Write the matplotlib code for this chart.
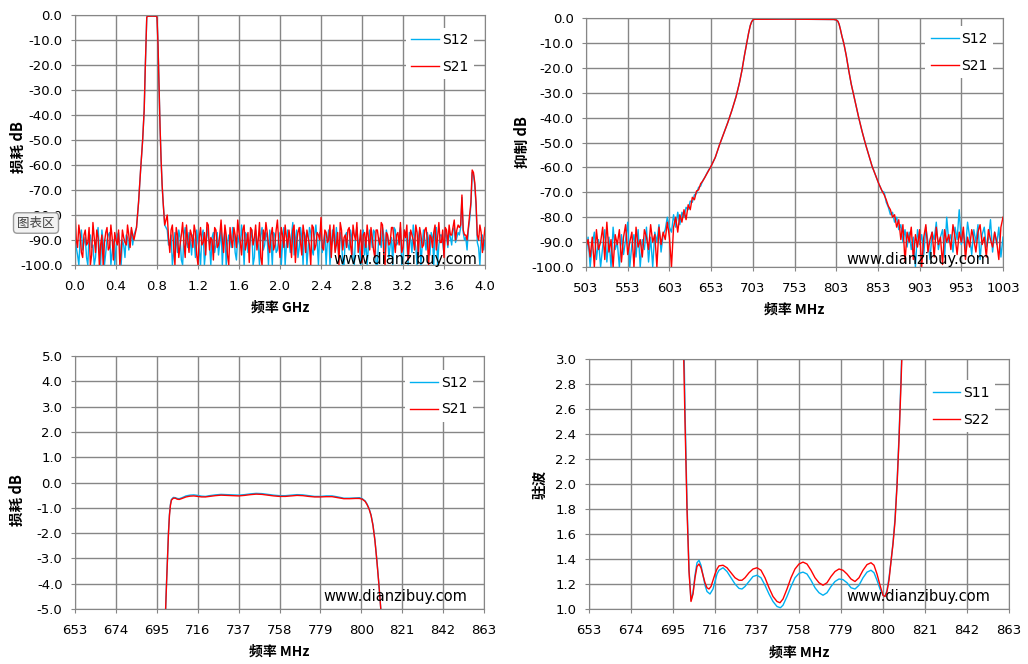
import numpy as np
import matplotlib
matplotlib.use("Agg")
import matplotlib.pyplot as plt

plt.rcParams['font.family'] = ['DejaVu Sans', 'Noto Sans CJK SC']
CJK = ['Noto Sans CJK SC', 'DejaVu Sans']

BLUE = '#00b0f0'
RED = '#ff0000'
GRID = '#868686'
WATERMARK = 'www.dianzibuy.com'

# ---------- chart 1: wide sweep, GHz ----------
# noise floor below the passband, read at 0.025 GHz steps plus the half steps between
wide_left_f = np.round(np.arange(24) * 0.025, 4)
wide_left_s21 = [78, 93, 88, 97, 86, 91, 100, 83, 95, 89, 92, 100, 87, 94, 84, 98, 90, 86, 95, 89, 92, 88, 85, 90]
wide_left_s12 = [87, 96, 90, 94, 89, 100, 88, 92, 97, 85, 100, 91, 95, 88, 100, 90, 93, 87, 100, 92, 88, 94, 86, 88]
wide_left_mid_f = np.round(0.0125 + np.arange(23) * 0.025, 4)
wide_left_mid_s21 = [90, 84, 95, 88, 92, 85, 96, 89, 86, 100, 88, 91, 85, 93, 89, 87, 92, 100, 86, 91, 84, 93, 88]
wide_left_mid_s12 = [93, 100, 86, 91, 97, 88, 93, 100, 89, 94, 86, 100, 90, 87, 95, 100, 88, 92, 90, 97, 89, 91, 92]

wide_edge_f = [0.6, 0.62, 0.64, 0.66, 0.675, 0.685, 0.695, 0.70, 0.705, 0.75, 0.795, 0.80,
               0.81, 0.82, 0.83, 0.84, 0.85, 0.86, 0.875]
wide_edge_db = [-85, -75, -62, -50, -38, -22, -8, -1, -0.5, -0.45, -0.5, -1,
                -12, -28, -45, -58, -68, -75, -84]

wide_floor_f = np.round(0.9 + np.arange(125) * 0.025, 4)
wide_floor_s21 = [80, 95, 84, 100, 88, 92, 83, 97, 90, 86,
                  93, 87, 100, 85, 91, 96, 84, 89, 98, 86,
                  92, 82, 95, 88, 100, 90, 85, 93, 87, 96,
                  84, 91, 99, 86, 89, 94, 83, 100, 90, 87,
                  95, 85, 92, 82, 97, 88, 84, 93, 90, 86,
                  99, 87, 91, 84, 95, 89, 100, 85, 92, 88,
                  81, 94, 87, 90, 97, 84, 92, 100, 86, 89,
                  93, 85, 96, 88, 83, 91, 99, 87, 84, 94,
                  89, 97, 86, 92, 84, 100, 88, 91, 85, 95,
                  87, 83, 93, 89, 98, 86, 90, 84, 96, 88,
                  92, 85, 100, 89, 87, 94, 83, 91, 97, 86,
                  84, 88, 82, 86, 85, 72, 88, 90, 80, 62,
                  67, 88, 84, 95, 85]
wide_floor_s12 = [86, 92, 100, 87, 95, 89, 100, 85, 93, 90,
                  88, 97, 91, 100, 86, 94, 89, 100, 87, 92,
                  96, 85, 90, 100, 88, 93, 86, 98, 91, 84,
                  100, 88, 93, 86, 97, 90, 100, 85, 92, 89,
                  86, 100, 88, 94, 87, 91, 100, 86, 95, 83,
                  90, 97, 85, 100, 89, 93, 87, 96, 84, 100,
                  88, 91, 100, 86, 93, 89, 85, 97, 90, 100,
                  87, 94, 89, 100, 85, 92, 88, 96, 100, 86,
                  93, 87, 100, 90, 85, 96, 89, 92, 100, 86,
                  91, 85, 97, 88, 100, 90, 84, 93, 89, 100,
                  86, 94, 90, 87, 100, 85, 92, 88, 96, 89,
                  87, 92, 85, 89, 88, 73, 90, 94, 82, 63,
                  68, 91, 100, 88, 90]
wide_floor_mid_f = np.round(0.9125 + np.arange(124) * 0.025, 4)
wide_floor_mid_s21 = [89, 86, 93, 85, 97, 88, 91, 84, 95, 88,
                      84, 96, 89, 92, 87, 83, 94, 90, 85, 93,
                      88, 90, 84, 96, 85, 93, 88, 82, 91, 86,
                      94, 87, 85, 92, 84, 90, 97, 86, 83, 92,
                      88, 94, 86, 91, 85, 93, 89, 86, 97, 84,
                      91, 85, 96, 88, 86, 92, 84, 94, 87, 90,
                      93, 86, 91, 84, 89, 95, 87, 83, 94, 88,
                      86, 92, 84, 90, 95, 86, 88, 93, 89, 85,
                      94, 86, 90, 83, 96, 87, 92, 85, 90, 88,
                      92, 95, 86, 84, 91, 88, 94, 87, 85, 93,
                      86, 90, 88, 93, 84, 89, 91, 86, 85, 92,
                      88, 85, 90, 84, 84, 86, 88, 85, 75, 63,
                      75, 90, 87, 90]
wide_floor_mid_s12 = [92, 88, 95, 90, 86, 98, 88, 91, 87, 96,
                      90, 86, 94, 88, 100, 85, 92, 89, 95, 87,
                      91, 100, 86, 92, 89, 85, 95, 88, 93, 90,
                      87, 95, 89, 100, 86, 92, 88, 94, 87, 100,
                      91, 87, 95, 89, 100, 85, 92, 90, 88, 96,
                      86, 93, 89, 87, 100, 85, 94, 88, 91, 87,
                      95, 87, 90, 100, 86, 94, 91, 87, 100, 88,
                      92, 86, 97, 88, 91, 100, 86, 90, 93, 88,
                      86, 100, 89, 93, 88, 86, 97, 89, 85, 92,
                      88, 100, 86, 91, 87, 95, 89, 100, 86, 92,
                      90, 87, 96, 89, 85, 100, 88, 91, 86, 93,
                      89, 86, 91, 87, 85, 87, 89, 86, 76, 64,
                      76, 93, 89, 94]

# ---------- chart 2: rejection, MHz ----------
rej_left_f = 503 + 2.5 * np.arange(41)
rej_left_s21 = [92, 89, 96, 88, 100, 85, 93, 90, 84, 97,
                82, 94, 89, 100, 87, 91, 85, 98, 88, 83,
                95, 90, 86, 100, 84, 92, 89, 96, 85, 88,
                93, 83, 90, 87, 100, 84, 91, 86, 89, 82, 88]
rej_left_s12 = [95, 88, 100, 91, 86, 97, 89, 100, 92, 85,
                98, 88, 100, 84, 93, 90, 100, 87, 95, 89,
                82, 100, 91, 87, 96, 85, 100, 89, 93, 84,
                98, 88, 100, 86, 90, 83, 94, 87, 85, 80, 84]

rej_rise_f = 605.5 + 2.5 * np.arange(20)
rej_rise_s21 = [-100, -84, -80, -86, -79, -82, -77, -81, -75, -77,
                -72, -73, -69.5, -69, -66.5, -65.5, -64, -62.5, -61, -59.5]
rej_rise_s12 = [-86, -79, -84, -78, -83, -78, -80, -76, -77, -73.5,
                -74, -71, -70.5, -68, -67.5, -65.3, -64, -62.3, -60.8, -59.5]

rej_mid_f = [658, 663, 668, 673, 678, 683, 687, 690, 693, 696, 698, 700, 701.5, 703, 705,
             720, 740, 760, 780, 800, 803, 805, 806.5, 808, 810, 812, 815, 818, 821, 824,
             827, 830, 834, 838, 842, 846, 850, 854, 858]
rej_mid_db = [-56, -51, -46.5, -42, -37, -31.5, -26, -21, -15, -9.5, -6, -3, -1.6, -0.8, -0.5,
              -0.5, -0.45, -0.5, -0.55, -0.6, -0.8, -1.3, -2.5, -4.5, -7.5, -10, -15, -21, -26.5, -31,
              -35.5, -40, -45.5, -50.5, -55, -59.5, -63, -66.5, -69.5]

rej_fall_f = 860.5 + 2.5 * np.arange(12)
rej_fall_s21 = [-71, -73, -75.5, -77, -80, -79, -84, -81, -89, -83, -98, -86]
rej_fall_s12 = [-70, -74, -76, -79, -78, -82, -80, -85, -83, -90, -85, -92]

rej_right_f = 890.5 + 2.5 * np.arange(46)
rej_right_s21 = [90, 84, 97, 87, 92, 85, 100, 88, 83, 94,
                 89, 86, 96, 84, 91, 88, 99, 85, 90, 87,
                 93, 83, 88, 95, 86, 90, 84, 97, 88, 92,
                 85, 89, 94, 86, 83, 91, 88, 96, 85, 89,
                 92, 86, 90, 97, 84, 80]
rej_right_s12 = [86, 93, 88, 100, 85, 91, 87, 95, 84, 90,
                 97, 86, 89, 82, 93, 88, 85, 96, 80, 90,
                 87, 94, 84, 89, 77, 91, 86, 93, 82, 88,
                 95, 85, 90, 83, 97, 87, 84, 92, 89, 81,
                 94, 86, 91, 84, 96, 88]

# ---------- chart 3: passband insertion loss ----------
il_f = [699.3, 700, 700.5, 701, 701.5, 702, 702.5, 703.5, 704.5, 705.5, 706.5, 708, 710, 712,
        714, 716, 718, 720, 722, 725, 728, 731, 734, 737, 740, 743, 746, 749, 752, 755,
        758, 761, 764, 767, 770, 773, 776, 779, 782, 785, 788, 791, 794, 797, 799, 800.5,
        802, 803, 804, 805, 806, 807, 808, 809, 810, 810.5]
il_s21 = [-5.5, -4.0, -3.0, -2.0, -1.3, -0.9, -0.7, -0.62, -0.62, -0.66, -0.67, -0.63, -0.57, -0.54,
          -0.53, -0.55, -0.57, -0.57, -0.55, -0.52, -0.5, -0.51, -0.52, -0.53, -0.51, -0.48,
          -0.46, -0.47, -0.5, -0.53, -0.55, -0.55, -0.53, -0.51, -0.52, -0.55, -0.57, -0.57,
          -0.56, -0.56, -0.6, -0.64, -0.64, -0.63, -0.63, -0.66, -0.75, -0.88, -1.05, -1.3,
          -1.7, -2.3, -3.1, -4.0, -5.0, -5.6]
il_s12 = [-5.5, -3.95, -2.95, -1.95, -1.25, -0.86, -0.67, -0.59, -0.6, -0.63, -0.64, -0.6, -0.53, -0.5,
          -0.49, -0.51, -0.54, -0.55, -0.52, -0.49, -0.47, -0.48, -0.49, -0.5, -0.48, -0.45,
          -0.43, -0.44, -0.47, -0.5, -0.52, -0.52, -0.5, -0.48, -0.49, -0.52, -0.55, -0.55,
          -0.53, -0.53, -0.57, -0.62, -0.62, -0.61, -0.6, -0.64, -0.73, -0.86, -1.03, -1.28,
          -1.68, -2.28, -3.08, -3.98, -4.98, -5.6]

# ---------- chart 4: VSWR ----------
vswr_f22 = [700, 701, 702, 703, 704, 705, 706, 707, 708, 709, 710, 711, 712, 713, 714, 715, 716,
            717, 718, 720, 722, 724, 726, 728, 729.5, 731, 733, 735, 737, 739, 741, 743, 745,
            747, 748.5, 750, 752, 754, 756, 758, 760, 762, 764, 766, 768, 770, 772, 774, 776,
            778, 780, 782, 784, 786, 788, 790, 792, 794, 795.5, 797, 798.5, 800, 801, 802, 803,
            804, 805, 806, 807, 808, 809, 810]
vswr_s22 = [3.3, 2.5, 1.8, 1.3, 1.06, 1.12, 1.25, 1.34, 1.36, 1.33, 1.27, 1.21, 1.17, 1.16, 1.18,
            1.23, 1.28, 1.32, 1.345, 1.35, 1.33, 1.29, 1.25, 1.23, 1.23, 1.25, 1.29, 1.32, 1.33,
            1.31, 1.25, 1.17, 1.10, 1.06, 1.05, 1.08, 1.16, 1.25, 1.32, 1.36, 1.375, 1.36, 1.31,
            1.25, 1.21, 1.19, 1.21, 1.26, 1.30, 1.32, 1.31, 1.28, 1.24, 1.22, 1.25, 1.31, 1.355,
            1.37, 1.35, 1.28, 1.19, 1.11, 1.10, 1.14, 1.23, 1.38, 1.52, 1.70, 1.98, 2.35, 2.8, 3.3]
vswr_f11 = [700.3, 701, 702, 703, 704, 705, 706, 707, 708, 709, 710, 711, 712, 713.5, 715, 716,
            717, 718, 720, 722, 724, 726, 728, 729.5, 731, 733, 735, 737, 739, 741, 743, 745,
            747, 748.7, 750, 752, 754, 756, 758, 760, 762, 764, 766, 768, 770, 772, 774, 776,
            778, 780, 782, 784, 786, 788, 790, 792, 794, 795.5, 797, 798.5, 800, 801, 802, 803,
            804, 805, 806, 807, 808, 809, 810]
vswr_s11 = [3.3, 2.6, 1.85, 1.32, 1.07, 1.13, 1.27, 1.37, 1.39, 1.35, 1.27, 1.19, 1.14, 1.12,
            1.16, 1.22, 1.28, 1.31, 1.33, 1.30, 1.25, 1.20, 1.165, 1.16, 1.18, 1.22, 1.26, 1.27,
            1.25, 1.19, 1.12, 1.06, 1.02, 1.01, 1.03, 1.10, 1.18, 1.25, 1.285, 1.295, 1.28, 1.23,
            1.17, 1.13, 1.11, 1.13, 1.18, 1.22, 1.24, 1.235, 1.21, 1.17, 1.16, 1.19, 1.25, 1.295,
            1.31, 1.29, 1.23, 1.16, 1.11, 1.10, 1.15, 1.25, 1.38, 1.53, 1.72, 2.0, 2.38, 2.85, 3.35]


def interleave(a, b):
    out = np.empty(len(a) + len(b))
    out[0::2] = a
    out[1::2] = b
    return out


def style_axes(ax, xticks, yticks, xfmt, yfmt, xlabel, ylabel, xl_pos, yl_pos):
    ax.set_xlim(xticks[0], xticks[-1])
    ax.set_ylim(yticks[0], yticks[-1])
    ax.set_xticks(xticks)
    ax.set_yticks(yticks)
    ax.set_xticklabels([xfmt.format(v) for v in xticks])
    ax.set_yticklabels([yfmt.format(v) for v in yticks])
    ax.grid(True, color=GRID, lw=1)
    ax.set_axisbelow(True)
    for s in ax.spines.values():
        s.set_color(GRID)
    ax.tick_params(direction='out', length=3, color=GRID, labelsize=9.5)
    ax.tick_params(axis='x', pad=8)
    ax.tick_params(axis='y', pad=6)
    ax.set_xlabel(xlabel, family=CJK, fontweight='bold', fontsize=10, va='center')
    ax.set_ylabel(ylabel, family=CJK, fontweight='bold', fontsize=10.5, va='center')
    ax.xaxis.set_label_coords(0.5, xl_pos)
    ax.yaxis.set_label_coords(yl_pos[0], yl_pos[1])


def add_legend(ax, anchor):
    ax.legend(loc='upper right', bbox_to_anchor=anchor, frameon=True, fancybox=False,
              edgecolor='none', facecolor='white', framealpha=1, handlelength=2.0,
              handletextpad=0.2, labelspacing=0.9, fontsize=10, borderpad=0.4,
              borderaxespad=0)


fig = plt.figure(figsize=(10.28, 6.64), dpi=100)

# chart 1
ax1 = fig.add_axes([75 / 1028, 1 - 265 / 664, 410 / 1028, 250 / 664])
f1 = np.concatenate([interleave(wide_left_f, wide_left_mid_f), wide_edge_f,
                     interleave(wide_floor_f, wide_floor_mid_f)])
s12_1 = np.concatenate([-interleave(wide_left_s12, wide_left_mid_s12), wide_edge_db,
                        -interleave(wide_floor_s12, wide_floor_mid_s12)])
s21_1 = np.concatenate([-interleave(wide_left_s21, wide_left_mid_s21), wide_edge_db,
                        -interleave(wide_floor_s21, wide_floor_mid_s21)])
ax1.plot(f1, s12_1, color=BLUE, lw=1, label='S12')
ax1.plot(f1, s21_1, color=RED, lw=1, label='S21')
style_axes(ax1, [round(0.4 * i, 1) for i in range(11)], list(range(-100, 1, 10)),
           '{:.1f}', '{:.1f}', '频率 GHz', '损耗 dB', -0.172, (-0.139, 0.47))
add_legend(ax1, (0.973, 0.95))
ax1.text(0.98, 0.024, WATERMARK, transform=ax1.transAxes, ha='right', va='center', fontsize=10.5)

# chart 2
ax2 = fig.add_axes([586 / 1028, 1 - 267 / 664, 417 / 1028, 249 / 664])
f2 = np.concatenate([rej_left_f, rej_rise_f, rej_mid_f, rej_fall_f, rej_right_f])
s12_2 = np.concatenate([-np.array(rej_left_s12), rej_rise_s12, rej_mid_db, rej_fall_s12,
                        -np.array(rej_right_s12)])
s21_2 = np.concatenate([-np.array(rej_left_s21), rej_rise_s21, rej_mid_db, rej_fall_s21,
                        -np.array(rej_right_s21)])
ax2.plot(f2, s12_2, color=BLUE, lw=1, label='S12')
ax2.plot(f2, s21_2, color=RED, lw=1, label='S21')
style_axes(ax2, list(range(503, 1004, 50)), list(range(-100, 1, 10)),
           '{}', '{:.1f}', '频率 MHz', '抑制 dB', -0.173, (-0.153, 0.5))
add_legend(ax2, (0.977, 0.966))
ax2.text(0.969, 0.032, WATERMARK, transform=ax2.transAxes, ha='right', va='center', fontsize=10.5)

# chart 3
ax3 = fig.add_axes([75 / 1028, 1 - 609 / 664, 409 / 1028, 253 / 664])
ax3.plot(il_f, il_s12, color=BLUE, lw=1, label='S12')
ax3.plot(il_f, il_s21, color=RED, lw=1, label='S21')
style_axes(ax3, list(range(653, 864, 21)), list(range(-5, 6)),
           '{}', '{:.1f}', '频率 MHz', '损耗 dB', -0.17, (-0.142, 0.43))
add_legend(ax3, (0.973, 0.943))
ax3.text(0.958, 0.05, WATERMARK, transform=ax3.transAxes, ha='right', va='center', fontsize=10.5)

# chart 4
ax4 = fig.add_axes([589 / 1028, 1 - 609 / 664, 420 / 1028, 250 / 664])
ax4.plot(vswr_f11, vswr_s11, color=BLUE, lw=1, label='S11')
ax4.plot(vswr_f22, vswr_s22, color=RED, lw=1, label='S22')
style_axes(ax4, list(range(653, 864, 21)), [round(1 + 0.2 * i, 1) for i in range(11)],
           '{}', '{:.1f}', '频率 MHz', '驻波', -0.176, (-0.117, 0.5))
add_legend(ax4, (0.967, 0.914))
ax4.text(0.955, 0.048, WATERMARK, transform=ax4.transAxes, ha='right', va='center', fontsize=10.5)

# Excel hover tip left in the screenshot
fig.text(36 / 1028, 1 - 223 / 664, '图表区', family=CJK, fontsize=9, ha='center', va='center',
         color='#404040', zorder=10,
         bbox=dict(boxstyle='round,pad=0.3', fc='#f2f2f2', ec='#9a9a9a'))

fig.savefig('out.png', dpi=100)
